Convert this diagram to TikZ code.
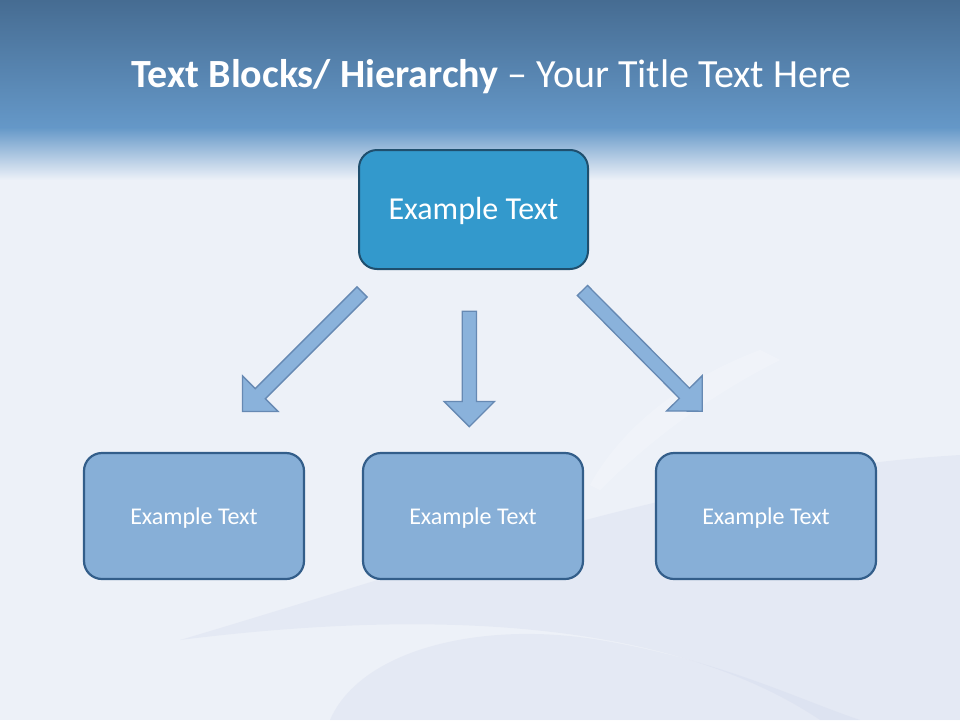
\documentclass[tikz,border=0pt]{standalone}
\usepackage{fontspec}
\setmainfont{Carlito}
\usetikzlibrary{shapes.arrows,calc}
\definecolor{bandtop}{HTML}{466C92}
\definecolor{bandbot}{HTML}{6598C8}
\definecolor{paper}{HTML}{EDF1F8}
\definecolor{haze}{HTML}{C4CCE6}
\definecolor{topfill}{HTML}{3399CC}
\definecolor{topline}{HTML}{1F4F6E}
\definecolor{boxfill}{HTML}{87AFD7}
\definecolor{boxline}{HTML}{335E8A}
\definecolor{arrfill}{HTML}{8AB2DB}
\definecolor{arrline}{HTML}{6689B3}
\tikzset{
  headbox/.style={draw=topline, line width=2pt, fill=topfill, rounded corners=18pt,
    minimum width=229pt, minimum height=119pt, text=white, font=\fontsize{32}{38}\selectfont,
    text height=22pt, text depth=2pt},
  childbox/.style={draw=boxline, line width=2.2pt, fill=boxfill, rounded corners=18pt,
    minimum width=220pt, minimum height=126pt, text=white, font=\fontsize{24}{29}\selectfont,
    text height=17pt, text depth=1pt},
  blockarr/.style={single arrow, draw=arrline, line width=1.3pt, fill=arrfill,
    inner xsep=0pt, inner ysep=6.5pt, minimum width=0pt,
    single arrow head extend=18pt, single arrow tip angle=90}
}
% block arrow from tail #2 to tip #3, node name #1
\newcommand\blockarrow[3]{%
  \path let \p1=(#2), \p2=(#3), \n1={atan2(\y2-\y1,\x2-\x1)}, \n2={veclen(\x2-\x1,\y2-\y1)} in
    node[blockarr, minimum height=\n2, rotate=\n1, anchor=tail] (#1) at (\p1) {};}
\begin{document}
\begin{tikzpicture}[x=1pt,y=-1pt]
          \useasboundingbox (0,0) rectangle (960,720);
          % background
          \fill[paper] (0,0) rectangle (960,720);
          \shade[top color=bandtop, bottom color=bandbot] (0,0) rectangle (960,128);
          \shade[top color=bandbot, bottom color=paper] (0,127.5) rectangle (960,180);
          \fill[haze, opacity=0.2] (180,640) .. controls (450,560) and (700,470) .. (960,455) -- (960,720) -- (820,720) .. controls (700,640) and (500,600) .. cycle;
          \fill[white, opacity=0.2] (590,485) .. controls (620,430) and (680,380) .. (760,350) -- (780,360) .. controls (700,400) and (640,450) .. (600,490) -- cycle;
          \fill[haze, opacity=0.2] (330,720) .. controls (360,650) and (480,620) .. (600,640) .. controls (720,660) and (800,700) .. (860,720) -- cycle;
          % title
          \node[anchor=base, text=white, font=\fontsize{40}{48}\selectfont] (title) at (491.5,87) {\textbf{Text Blocks/ Hierarchy} -- Your Title Text Here};
          % boxes
          \node[headbox] (top) at (473.5,209.5) {Example Text};
          \node[childbox] (left) at (194,516) {Example Text};
          \node[childbox] (mid) at (473,516) {Example Text};
          \node[childbox] (right) at (766,516) {Example Text};
          % arrows
          \coordinate (l0) at (362.5,291.5);
          \coordinate (l1) at (243,411);
          \coordinate (m0) at (469.3,310.5);
          \coordinate (m1) at (469.3,426);
          \coordinate (r0) at (582,290);
          \coordinate (r1) at (701.7,410.7);
          \blockarrow{arrl}{l0}{l1}
          \blockarrow{arrm}{m0}{m1}
          \blockarrow{arrr}{r0}{r1}
        \end{tikzpicture}
\end{document}
